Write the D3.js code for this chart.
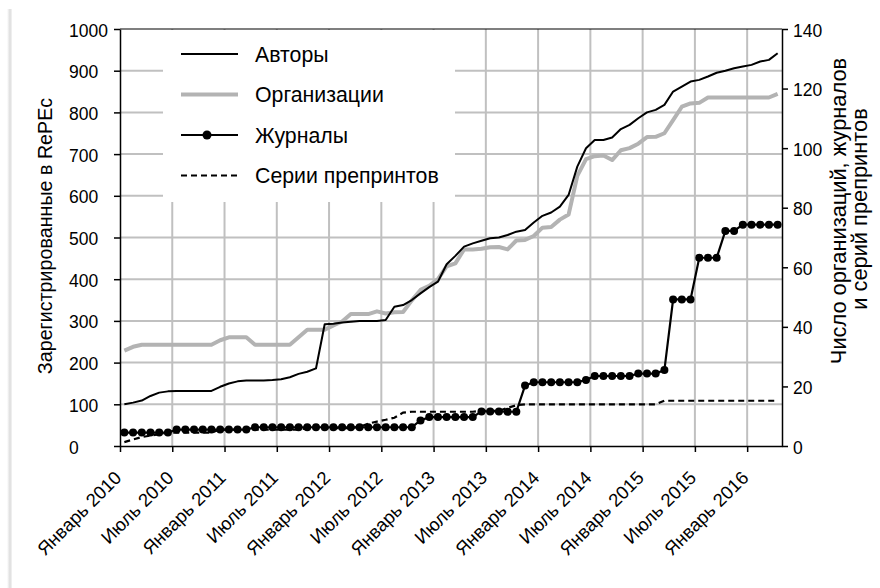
<!DOCTYPE html>
<html>
<head>
<meta charset="utf-8">
<script src="https://cdn.jsdelivr.net/npm/d3@7"></script>
<style>
  body { margin: 0; background: #fff; }
  text { font-family: "Liberation Sans", Arial, sans-serif; fill: #000; }
</style>
</head>
<body>
<div id="plot"></div>
<script>
// Monthly values, Jan 2010 .. Apr 2016
const authors = [
  100, 104, 109, 120, 128, 131, 132, 132, 132, 132, 132, 142,
  150, 155, 157, 157, 157, 158, 160, 165, 173, 178, 186, 292,
  293, 296, 298, 300, 300, 300, 302, 334, 338, 350, 366, 381,
  394, 436, 456, 478, 486, 492, 498, 500, 506, 514, 518, 536,
  552, 560, 574, 602, 670, 714, 734, 734, 740, 760, 770, 786,
  800, 806, 818, 850, 862, 874, 878, 886, 895, 900, 906, 910,
  914, 922, 926, 942
];
const organizations = [
  32, 33.3, 34, 34, 34, 34, 34, 34, 34, 34, 34, 35.5,
  36.5, 36.5, 36.5, 34, 34, 34, 34, 34, 36.5, 39, 39, 39,
  40.5, 41.8, 44.3, 44.3, 44.3, 45.2, 44.5, 44.9, 45, 48.9, 52.4, 53.8,
  56, 60.3, 61.3, 66, 66, 66.2, 66.7, 66.8, 66, 69, 69.2, 70.5,
  73.3, 73.5, 76, 77.7, 90.7, 96.3, 97.3, 97.5, 96, 99.3, 100, 101.5,
  103.7, 103.8, 105, 109.4, 113.9, 115, 115.2, 117, 117, 117, 117, 117,
  117, 117, 117, 118.2
];
const journals = [
  4.5, 4.5, 4.5, 4.5, 4.5, 4.5, 5.5, 5.5, 5.5, 5.5, 5.5, 5.5,
  5.5, 5.5, 5.5, 6.3, 6.3, 6.3, 6.3, 6.3, 6.3, 6.3, 6.3, 6.3,
  6.3, 6.3, 6.3, 6.3, 6.3, 6.3, 6.3, 6.3, 6.3, 6.3, 8.6, 9.7,
  9.7, 9.7, 9.7, 9.7, 9.7, 11.6, 11.6, 11.6, 11.5, 11.5, 20.3, 21.4,
  21.4, 21.4, 21.4, 21.4, 21.4, 22.2, 23.5, 23.5, 23.5, 23.5, 23.5, 24.3,
  24.3, 24.3, 25.5, 49.2, 49.2, 49.2, 63.2, 63.2, 63.2, 72.2, 72.2, 74.3,
  74.3, 74.3, 74.3, 74.3
];
const preprints = [
  1.3, 2.2, 3, 3.5, 4, 4.5, 4.5, 4.5, 4.5, 4.5, 4.5, 5.5,
  5.5, 5.5, 5.5, 5.5, 5.5, 5.5, 5.5, 5.5, 5.5, 6, 6, 6,
  6, 6, 6, 6.5, 7.5, 8.2, 8.8, 9.5, 11.2, 11.5, 11.5, 11.5,
  11.5, 11.5, 11.5, 11.5, 11.5, 11.8, 11.8, 11.8, 12.8, 13.7, 14, 14,
  14, 14, 14, 14, 14, 14, 14, 14, 14, 14, 14, 14,
  14, 14, 15.2, 15.2, 15.2, 15.2, 15.2, 15.2, 15.2, 15.2, 15.2, 15.2,
  15.2, 15.2, 15.2, 15.2
];
const xTickLabels = [
  "Январь 2010", "Июль 2010", "Январь 2011", "Июль 2011", "Январь 2012",
  "Июль 2012", "Январь 2013", "Июль 2013", "Январь 2014", "Июль 2014",
  "Январь 2015", "Июль 2015", "Январь 2016"
];
const leftTicks = [0, 100, 200, 300, 400, 500, 600, 700, 800, 900, 1000];
const rightTicks = [0, 20, 40, 60, 80, 100, 120, 140];
const legendItems = ["Авторы", "Организации", "Журналы", "Серии препринтов"];

const width = 880, height = 588;
const plotLeft = 120, plotRight = 782, plotTop = 29, plotBottom = 446;

const svg = d3.select("#plot").append("svg")
  .attr("width", width)
  .attr("height", height);

// faint frame edge on the left
const shade = svg.append("defs").append("linearGradient").attr("id", "edge");
shade.append("stop").attr("offset", "0%").attr("stop-color", "#fff");
shade.append("stop").attr("offset", "60%").attr("stop-color", "#dcdcdc");
shade.append("stop").attr("offset", "100%").attr("stop-color", "#f4f4f4");
svg.append("rect").attr("x", 7).attr("y", 9).attr("width", 5).attr("height", height - 9)
  .attr("fill", "url(#edge)");

const x = d3.scaleLinear().domain([0, 76]).range([plotLeft, plotRight]);
const yL = d3.scaleLinear().domain([0, 1000]).range([plotBottom, plotTop]);
const yR = d3.scaleLinear().domain([0, 140]).range([plotBottom, plotTop]);
const xTicks = xTickLabels.map((d, i) => i * 6);

// grid
svg.append("g").selectAll("line")
  .data(leftTicks.slice(1, -1))
  .enter().append("line")
  .attr("x1", plotLeft).attr("x2", plotRight)
  .attr("y1", d => yL(d)).attr("y2", d => yL(d))
  .attr("stroke", "#c0c0c0").attr("stroke-width", 2);

svg.append("g").selectAll("line")
  .data(xTicks.slice(1))
  .enter().append("line")
  .attr("x1", d => x(d)).attr("x2", d => x(d))
  .attr("y1", plotTop).attr("y2", plotBottom)
  .attr("stroke", "#c0c0c0").attr("stroke-width", 2);

// legend box hides the grid behind it
svg.append("rect")
  .attr("x", 163).attr("y", plotTop + 1).attr("width", 292).attr("height", 172)
  .attr("fill", "#fff");

// top border
svg.append("line").attr("x1", plotLeft).attr("x2", plotRight).attr("y1", plotTop).attr("y2", plotTop)
  .attr("stroke", "#000").attr("stroke-width", 1.2);

// axes
const axL = svg.append("g").attr("transform", `translate(${plotLeft},0)`)
  .call(d3.axisLeft(yL).tickValues(leftTicks).tickFormat(d3.format("d"))
    .tickSize(6).tickSizeOuter(0));
const axR = svg.append("g").attr("transform", `translate(${plotRight},0)`)
  .call(d3.axisRight(yR).tickValues(rightTicks).tickSize(6).tickSizeOuter(0).tickPadding(5));
const axB = svg.append("g").attr("transform", `translate(0,${plotBottom})`)
  .call(d3.axisBottom(x).tickValues(xTicks).tickSize(6).tickSizeOuter(0)
    .tickFormat((d, i) => xTickLabels[i]));

[axL, axR, axB].forEach(a => {
  a.selectAll("path, line").attr("stroke", "#000").attr("stroke-width", 1.5);
  a.selectAll("text").style("font-size", "17.5px").attr("fill", "#000").attr("dy", "0.4em");
});

// left labels are left-aligned in the original
axL.selectAll("text").attr("text-anchor", "start").attr("x", 69 - plotLeft);

axB.selectAll("text")
  .style("font-size", "18.5px")
  .attr("text-anchor", "end")
  .attr("y", 0).attr("dy", 0)
  .attr("transform", "translate(2,33) rotate(-45)");

// axis titles
svg.append("text")
  .attr("transform", "translate(52,236) rotate(-90)")
  .attr("text-anchor", "middle")
  .style("font-size", "19.7px")
  .text("Зарегистрированные в RePEc");

svg.append("text")
  .attr("transform", "translate(846,211) rotate(-90)")
  .attr("text-anchor", "middle")
  .style("font-size", "21.8px")
  .text("Число организаций, журналов");
svg.append("text")
  .attr("transform", "translate(867,209) rotate(-90)")
  .attr("text-anchor", "middle")
  .style("font-size", "21.8px")
  .text("и серий препринтов");

// series
const px = i => x(i + 0.5);

svg.append("path").datum(organizations)
  .attr("fill", "none").attr("stroke", "#b3b3b3").attr("stroke-width", 4)
  .attr("stroke-linejoin", "round")
  .attr("d", d3.line().x((d, i) => px(i)).y(d => yR(d)));

svg.append("path").datum(authors)
  .attr("fill", "none").attr("stroke", "#000").attr("stroke-width", 2)
  .attr("stroke-linejoin", "round")
  .attr("d", d3.line().x((d, i) => px(i)).y(d => yL(d)));

svg.append("path").datum(preprints)
  .attr("fill", "none").attr("stroke", "#000").attr("stroke-width", 2.2)
  .attr("stroke-dasharray", "6,4")
  .attr("d", d3.line().x((d, i) => px(i)).y(d => yR(d)));

svg.append("path").datum(journals)
  .attr("fill", "none").attr("stroke", "#000").attr("stroke-width", 2.2)
  .attr("d", d3.line().x((d, i) => px(i)).y(d => yR(d)));

svg.append("g").selectAll("circle")
  .data(journals)
  .enter().append("circle")
  .attr("cx", (d, i) => px(i)).attr("cy", d => yR(d))
  .attr("r", 4).attr("fill", "#000");

// legend
const legend = svg.append("g");
const rowY = i => 54 + i * 40.5;
legendItems.forEach((label, i) => {
  const g = legend.append("g").attr("transform", `translate(0,${rowY(i)})`);
  const ln = g.append("line").attr("x1", 181).attr("x2", 238).attr("y1", 0).attr("y2", 0)
    .attr("stroke", "#000").attr("stroke-width", 2.2);
  if (i === 1) ln.attr("stroke", "#b3b3b3").attr("stroke-width", 4);
  if (i === 3) ln.attr("stroke-dasharray", "6,4");
  if (i === 2) g.append("circle").attr("cx", 207).attr("cy", 0).attr("r", 4.5).attr("fill", "#000");
  g.append("text").attr("x", 255).attr("y", 7.5).style("font-size", "21.3px").text(label);
});
</script>
</body>
</html>
